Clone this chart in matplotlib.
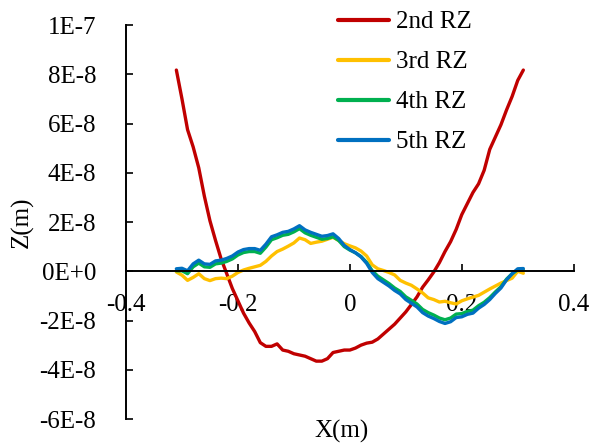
import numpy as np
import matplotlib
matplotlib.use("Agg")
import matplotlib.pyplot as plt

# === DATA (Z in units of 1E-8 m) ===
x = [-0.31, -0.30, -0.29, -0.28, -0.27, -0.26, -0.25, -0.24, -0.23, -0.22,
     -0.21, -0.20, -0.19, -0.18, -0.17, -0.16, -0.15, -0.14, -0.13, -0.12,
     -0.11, -0.10, -0.09, -0.08, -0.07, -0.06, -0.05, -0.04, -0.03, -0.02,
     -0.01, 0.00, 0.01, 0.02, 0.03, 0.04, 0.05, 0.06, 0.07, 0.08,
     0.09, 0.10, 0.11, 0.12, 0.13, 0.14, 0.15, 0.16, 0.17, 0.18,
     0.19, 0.20, 0.21, 0.22, 0.23, 0.24, 0.25, 0.26, 0.27, 0.28,
     0.29, 0.30, 0.31]

rz2 = [8.17, 7.00, 5.75, 5.05, 4.20, 3.05, 2.05, 1.25, 0.50, -0.10,
       -0.70, -1.20, -1.70, -2.10, -2.45, -2.90, -3.05, -3.05, -2.95, -3.20,
       -3.25, -3.35, -3.40, -3.45, -3.55, -3.65, -3.65, -3.55, -3.30, -3.25,
       -3.20, -3.20, -3.12, -3.00, -2.92, -2.88, -2.75, -2.55, -2.35, -2.15,
       -1.90, -1.65, -1.35, -1.04, -0.65, -0.35, -0.03, 0.35, 0.80, 1.20,
       1.70, 2.30, 2.75, 3.20, 3.55, 4.10, 4.95, 5.45, 5.95, 6.55,
       7.10, 7.75, 8.17]

rz3 = [-0.03, -0.16, -0.37, -0.25, -0.10, -0.30, -0.38, -0.30, -0.28, -0.30,
       -0.20, -0.05, 0.05, 0.12, 0.18, 0.24, 0.40, 0.62, 0.80, 0.90,
       1.02, 1.15, 1.35, 1.28, 1.13, 1.18, 1.22, 1.30, 1.38, 1.25,
       1.12, 1.03, 0.95, 0.82, 0.62, 0.26, 0.10, 0.03, -0.05, -0.15,
       -0.37, -0.48, -0.57, -0.72, -0.88, -1.08, -1.15, -1.25, -1.22, -1.28,
       -1.33, -1.20, -1.12, -1.05, -0.98, -0.85, -0.72, -0.60, -0.48, -0.38,
       -0.28, 0.00, -0.08]

rz4 = [0.02, 0.02, -0.10, 0.18, 0.33, 0.18, 0.16, 0.30, 0.33, 0.40,
       0.50, 0.66, 0.76, 0.80, 0.80, 0.73, 0.98, 1.28, 1.36, 1.46,
       1.50, 1.60, 1.73, 1.56, 1.46, 1.38, 1.30, 1.33, 1.40, 1.25,
       1.00, 0.86, 0.75, 0.60, 0.36, 0.02, -0.20, -0.35, -0.50, -0.68,
       -0.82, -1.04, -1.18, -1.33, -1.55, -1.68, -1.78, -1.90, -1.97, -1.90,
       -1.74, -1.72, -1.63, -1.58, -1.40, -1.26, -1.07, -0.84, -0.63, -0.32,
       -0.10, 0.06, 0.05]

rz5 = [0.10, 0.12, 0.02, 0.30, 0.45, 0.30, 0.28, 0.42, 0.45, 0.52,
       0.62, 0.78, 0.88, 0.92, 0.92, 0.85, 1.10, 1.40, 1.48, 1.58,
       1.62, 1.72, 1.85, 1.68, 1.58, 1.50, 1.42, 1.45, 1.52, 1.33,
       1.05, 0.88, 0.75, 0.58, 0.32, -0.05, -0.30, -0.45, -0.60, -0.78,
       -0.92, -1.15, -1.30, -1.45, -1.68, -1.82, -1.92, -2.04, -2.12, -2.05,
       -1.88, -1.85, -1.75, -1.70, -1.50, -1.35, -1.15, -0.90, -0.68, -0.35,
       -0.10, 0.10, 0.11]

labels = ["2nd RZ", "3rd RZ", "4th RZ", "5th RZ"]
colors = ["#C00000", "#FFC000", "#00B050", "#0070C0"]
y_ticks = [-6e-8, -4e-8, -2e-8, 0, 2e-8, 4e-8, 6e-8, 8e-8, 1e-7]
y_tick_labels = ["-6E-8", "-4E-8", "-2E-8", "0E+0", "2E-8", "4E-8", "6E-8", "8E-8", "1E-7"]
x_ticks = [-0.4, -0.2, 0, 0.2, 0.4]
x_tick_labels = ["-0.4", "-0.2", "0", "0.2", "0.4"]

FS = 18

plt.rcParams['font.family'] = ['Liberation Serif', 'DejaVu Serif']

fig = plt.figure(figsize=(5.89, 4.43), dpi=100)
ax = fig.add_axes([126 / 589, 1 - 419 / 443, (573.7 - 126) / 589, (419 - 25) / 443])

xs = np.array(x)
for vals, lab, col in zip([rz2, rz3, rz4, rz5], labels, colors):
  ax.plot(xs, np.array(vals) * 1e-8, color=col, lw=2.4, label=lab, solid_capstyle='round')

ax.set_xlim(-0.4, 0.4)
ax.set_ylim(-6e-8, 1e-7)
ax.set_xticks(x_ticks)
ax.set_xticklabels(x_tick_labels)
ax.set_yticks(y_ticks)
ax.set_yticklabels(y_tick_labels)

ax.spines['top'].set_visible(False)
ax.spines['right'].set_visible(False)
ax.spines['bottom'].set_position(('data', 0))
ax.spines['left'].set_linewidth(1.4)
ax.spines['bottom'].set_linewidth(1.4)
ax.tick_params(axis='both', direction='in', length=5, width=1.2, labelsize=FS)
ax.tick_params(axis='y', pad=21.5)
ax.tick_params(axis='x', pad=16.5)

fig.text(342 / 589, 1 - 431 / 443, "X(m)", ha='center', va='center', fontsize=FS)
fig.text(22 / 589, 1 - 222 / 443, "Z(m)", ha='center', va='center', rotation=90, fontsize=FS)

ax.legend(loc='upper left', bbox_to_anchor=(338 / 589, 1 - 11 / 443), bbox_transform=fig.transFigure,
          frameon=False, borderpad=0, borderaxespad=0, handlelength=2.05, handletextpad=0.25,
          labelspacing=0.7, fontsize=FS)
for ln in ax.get_legend().get_lines():
  ln.set_linewidth(3)

plt.savefig("out.png", dpi=100)
